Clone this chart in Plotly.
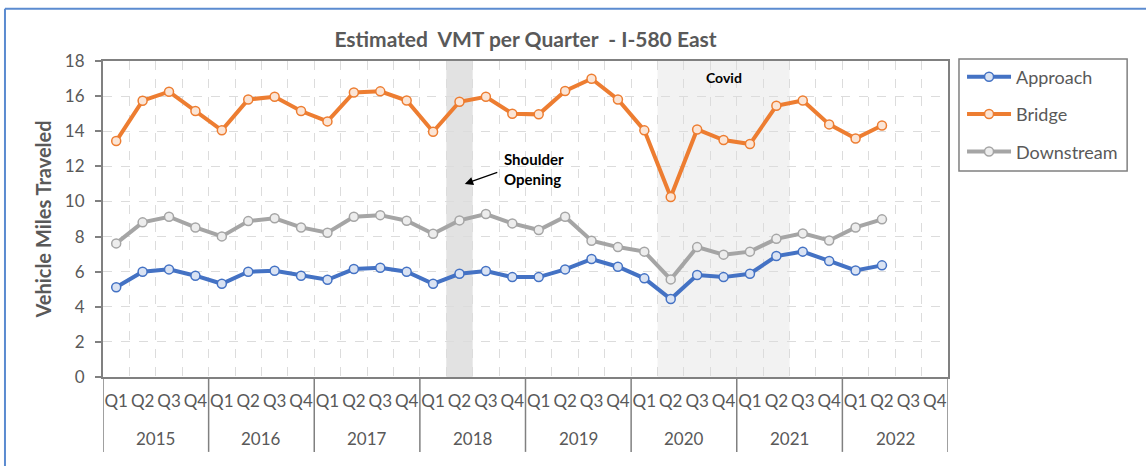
import plotly.graph_objects as go

# Quarterly categories, 2015 Q1 .. 2022 Q4
years = ["2015", "2016", "2017", "2018", "2019", "2020", "2021", "2022"]
quarters = ["Q1", "Q2", "Q3", "Q4"]

# Estimated VMT (millions) per quarter, 2015 Q1 .. 2022 Q2
approach = [5.11, 6.00, 6.13, 5.77, 5.31, 6.00, 6.05, 5.77, 5.54, 6.15, 6.22, 6.00,
            5.31, 5.88, 6.04, 5.69, 5.69, 6.13, 6.72, 6.28, 5.62, 4.44, 5.81, 5.69,
            5.88, 6.89, 7.14, 6.61, 6.07, 6.36]
bridge = [13.44, 15.74, 16.25, 15.15, 14.05, 15.81, 15.96, 15.15, 14.56, 16.21, 16.27, 15.75,
          13.97, 15.68, 15.96, 15.00, 14.96, 16.29, 16.99, 15.81, 14.05, 10.25, 14.10, 13.50,
          13.27, 15.45, 15.75, 14.39, 13.59, 14.33]
downstream = [7.61, 8.81, 9.13, 8.52, 8.01, 8.88, 9.04, 8.52, 8.22, 9.13, 9.22, 8.90,
              8.16, 8.92, 9.28, 8.75, 8.37, 9.13, 7.76, 7.40, 7.14, 5.56, 7.40, 6.97,
              7.14, 7.87, 8.18, 7.78, 8.52, 8.98]

# Highlighted periods (index of first and last quarter covered)
shoulder_period = (13, 13)   # 2018 Q2
covid_period = (21, 25)      # 2020 Q2 .. 2021 Q2

FONT = "Lato, 'Open Sans', sans-serif"
GREY_TEXT = "#595959"
AXIS = "#808080"
GRID = "#dcdcdc"

n_cat = len(years) * len(quarters)
cat_idx = list(range(n_cat))
q_labels = [q for _ in years for q in quarters]
boundaries = [i - 0.5 for i in range(n_cat + 1)]

series = [
    ("Approach", approach, "#4472c4", "#dae3f3"),
    ("Bridge", bridge, "#ed7d31", "#fbe5d6"),
    ("Downstream", downstream, "#a5a5a5", "#ededed"),
]

fig = go.Figure()
for name, vals, col, fill in series:
    fig.add_trace(go.Scatter(
        x=cat_idx[:len(vals)], y=vals, name=name, mode="lines+markers",
        legendgroup=name,
        line=dict(color=col, width=4),
        marker=dict(symbol="circle", size=9, color=fill, line=dict(color=col, width=1.5)),
    ))

shapes = []
# shaded periods
for (a, b), fc in [(shoulder_period, "#e2e2e2"), (covid_period, "#f2f2f2")]:
    shapes.append(dict(type="rect", xref="x", yref="y", x0=a - 0.5, x1=b + 0.5,
                       y0=0, y1=18, fillcolor=fc, line=dict(width=0), layer="below"))
# year dividers under the category axis
for k in range(len(years) + 1):
    xb = k * len(quarters) - 0.5
    shapes.append(dict(type="line", xref="x", yref="paper", x0=xb, x1=xb,
                       y0=0, y1=-0.237, line=dict(color=AXIS, width=1.5)))
# legend frame
shapes.append(dict(type="rect", xref="paper", yref="paper", x0=1.013, x1=1.212,
                   y0=0.652, y1=1.006, line=dict(color=AXIS, width=1.5),
                   fillcolor="rgba(0,0,0,0)"))
# outer chart frame (top and left edges)
shapes.append(dict(type="line", xref="paper", yref="paper", x0=-0.116, x1=1.25,
                   y0=1.165, y1=1.165, line=dict(color="#5b8bd0", width=2)))
shapes.append(dict(type="line", xref="paper", yref="paper", x0=-0.116, x1=-0.116,
                   y0=1.165, y1=-0.3, line=dict(color="#5b8bd0", width=2)))

annotations = []
for k, yr in enumerate(years):
    annotations.append(dict(x=k * len(quarters) + 1.5, y=-0.196, xref="x", yref="paper",
                            yanchor="middle", text=yr, showarrow=False,
                            font=dict(family=FONT, size=17, color=GREY_TEXT)))
annotations.append(dict(x=23, y=17.05, xref="x", yref="y", text="<b>Covid</b>",
                        showarrow=False, font=dict(family=FONT, size=14, color="black")))
annotations.append(dict(x=14.6, y=11.85, xref="x", yref="y", xanchor="left",
                        text="<b>Shoulder<br>Opening</b>", align="left", showarrow=False,
                        font=dict(family=FONT, size=15, color="black")))
annotations.append(dict(x=13.2, y=11.0, xref="x", yref="y", text="", showarrow=True,
                        ax=34, ay=-12, arrowhead=2, arrowsize=1.4, arrowwidth=1.2,
                        arrowcolor="black"))

fig.update_layout(
    width=1146, height=466,
    margin=dict(l=103, r=198, t=61, b=89),
    paper_bgcolor="white", plot_bgcolor="white",
    font=dict(family=FONT, color=GREY_TEXT),
    title=dict(text="<b>Estimated  VMT per Quarter  - I-580 East</b>",
               x=0.5, xref="paper", xanchor="center",
               y=1 - 40 / 466, yref="container", yanchor="middle",
               font=dict(family=FONT, size=21, color=GREY_TEXT)),
    xaxis=dict(range=[-0.5, n_cat - 0.5], tickmode="array", tickvals=cat_idx,
               ticktext=q_labels, showgrid=False, ticks="", zeroline=False,
               showline=True, linecolor=AXIS, linewidth=2, mirror=True,
               ticklabelstandoff=8,
               tickfont=dict(family=FONT, size=17, color=GREY_TEXT),
               minor=dict(tickmode="array", tickvals=boundaries, showgrid=True,
                          gridcolor=GRID, griddash="dash", gridwidth=1, ticks="")),
    yaxis=dict(range=[0, 18], dtick=2, tick0=0, showgrid=True, gridcolor=GRID,
               griddash="dash", zeroline=False, showline=True, linecolor=AXIS,
               linewidth=2, mirror=True, ticks="outside", ticklen=6, tickcolor=AXIS,
               tickwidth=1.5, ticklabelstandoff=7,
               tickfont=dict(family=FONT, size=17, color=GREY_TEXT),
               title=dict(text="<b>Vehicle Miles Traveled</b>", standoff=8,
                          font=dict(family=FONT, size=20, color=GREY_TEXT))),
    legend=dict(x=1.0166, y=1.008, xanchor="left", yanchor="top", itemwidth=44,
                bgcolor="rgba(0,0,0,0)", borderwidth=0, tracegroupgap=11,
                font=dict(family=FONT, size=18, color=GREY_TEXT)),
    shapes=shapes, annotations=annotations,
)

fig.write_html("out.html")
